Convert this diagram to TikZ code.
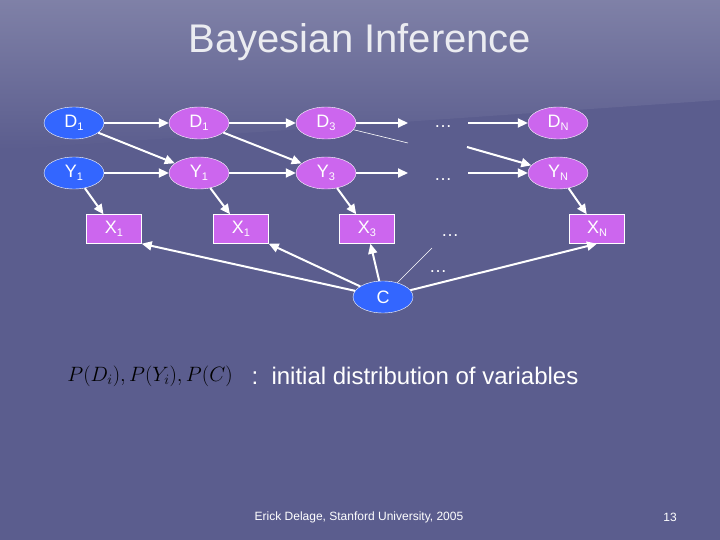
\documentclass[tikz,border=0pt]{standalone}
\usepackage{fontspec}
\setmainfont{Liberation Sans}
\usetikzlibrary{arrows.meta,shapes.geometric}
\newcommand{\sbs}[1]{\raisebox{-0.35ex}{\fontsize{11}{11}\selectfont #1}}
\begin{document}
\begin{tikzpicture}[x=1pt,y=-1pt,
  bell/.style={ellipse,draw=white,fill=blue1,minimum width=60pt,minimum height=32pt,inner sep=0pt,text=white,font=\fontsize{18}{18}\selectfont},
  pell/.style={bell,fill=pink1},
  pbox/.style={rectangle,draw=white,fill=pink1,minimum width=55pt,minimum height=29pt,inner sep=0pt,text=white,font=\fontsize{18}{18}\selectfont},
  dots/.style={text=white,font=\fontsize{18}{18}\selectfont},
  arr/.style={draw=white,line width=2pt,-{Triangle[length=10pt,width=9pt]}},
  thin/.style={draw=white,line width=0.6pt}]
\definecolor{bgc}{HTML}{5B5D8E}
\definecolor{blue1}{HTML}{3366FF}
\definecolor{pink1}{HTML}{CC66EE}
\fill[bgc] (0,0) rectangle (720,540);
\shade[left color=white!22!bgc,right color=bgc,shading angle=0] (0,0) -- (720,0) -- (720,100) -- (0,150) -- cycle;
\useasboundingbox (0,0) rectangle (720,540);
\node[text=white!88!bgc,font=\fontsize{40}{40}\selectfont] (title) at (360,42) {Bayesian Inference};
\node[bell] (d1) at (74,123) {D\sbs{1}};
\node[pell] (d2) at (199,123) {D\sbs{1}};
\node[pell] (d3) at (326,123) {D\sbs{3}};
\node[dots] (dd) at (443,127) {\dots};
\node[pell] (dn) at (558,123) {D\sbs{N}};
\node[bell] (y1) at (74,173) {Y\sbs{1}};
\node[pell] (y2) at (199,173) {Y\sbs{1}};
\node[pell] (y3) at (326,173) {Y\sbs{3}};
\node[dots] (yd) at (443,180) {\dots};
\node[pell] (yn) at (558,173) {Y\sbs{N}};
\node[pbox] (x1) at (114,229) {X\sbs{1}};
\node[pbox] (x2) at (241,229) {X\sbs{1}};
\node[pbox] (x3) at (367,229) {X\sbs{3}};
\node[dots] (xd) at (450,236) {\dots};
\node[pbox] (xn) at (597,229) {X\sbs{N}};
\node[dots] (cd) at (438,272) {\dots};
\node[bell] (c) at (383,297) {C};
\coordinate (a1) at (408,123); \coordinate (a2) at (468,123);
\coordinate (b1) at (408,173); \coordinate (b2) at (468,173);
\coordinate (e1) at (408,143); \coordinate (e2) at (467,147);
\coordinate (f1) at (432,248);
\draw[arr] (d1) -- (d2); \draw[arr] (d2) -- (d3); \draw[arr] (d3) -- (a1); \draw[arr] (a2) -- (dn);
\draw[arr] (y1) -- (y2); \draw[arr] (y2) -- (y3); \draw[arr] (y3) -- (b1); \draw[arr] (b2) -- (yn);
\draw[arr] (d1) -- (y2); \draw[arr] (d2) -- (y3); \draw[thin] (d3) -- (e1); \draw[arr] (e2) -- (yn);
\draw[arr] (y1) -- (x1); \draw[arr] (y2) -- (x2); \draw[arr] (y3) -- (x3); \draw[arr] (yn) -- (xn);
\draw[arr] (c) -- (x1.south east); \draw[arr] (c) -- (x2.south east); \draw[arr] (c) -- (x3); \draw[arr] (c) -- (xn.south);
\draw[thin] (c) -- (f1);
\node[text=black,font=\fontsize{20}{20}\selectfont] (f) at (150,376) {$P(D_i),P(Y_i),P(C)$};
\node[text=white,font=\fontsize{24}{24}\selectfont,anchor=west] (t) at (248,376) {:\ \ initial distribution of variables};
\node[text=white,font=\fontsize{12}{12}\selectfont] (ft) at (359,517) {Erick Delage, Stanford University, 2005};
\node[text=white,font=\fontsize{12}{12}\selectfont] (pg) at (670,517) {13};
\end{tikzpicture}
\end{document}
